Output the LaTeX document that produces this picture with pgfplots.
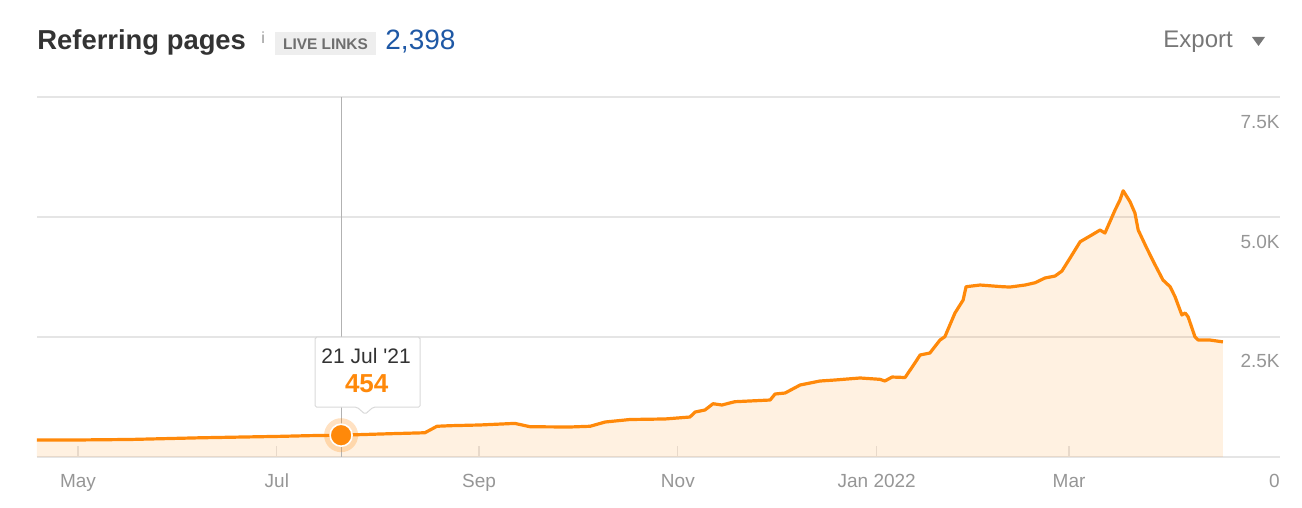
\documentclass[border=0pt]{standalone}
\usepackage{fontspec}
\setmainfont{Liberation Sans}
\usepackage{pgfplots}
\pgfplotsset{compat=1.18}
\usepackage{pgfplotstable}
\definecolor{lineor}{RGB}{255,137,10}
\definecolor{gridc}{RGB}{229,229,229}
\definecolor{tickc}{RGB}{150,150,150}
\definecolor{titlec}{RGB}{51,51,51}
\definecolor{numblue}{RGB}{30,88,165}
\definecolor{exportc}{RGB}{119,119,119}
\definecolor{boxbg}{RGB}{238,238,238}
\definecolor{livec}{RGB}{110,110,110}

% x = days since 1 May 2021
\pgfplotstableread{
d v
-12.6 354
-0.9 354
16.0 365
37.4 400
62.0 430
71.2 445
80.7 454
95.7 485
106.4 505
110.1 640
114.1 652
123.3 667
134.0 700
138.7 630
150.9 625
157.1 640
161.7 729
169.3 781
180.1 792
187.7 833
189.3 937
192.3 979
194.8 1110
197.5 1083
201.5 1152
212.3 1187
213.8 1312
216.9 1333
221.5 1500
227.6 1583
232.2 1604
239.9 1646
246.0 1618
247.5 1583
249.7 1666
253.7 1656
256.7 1958
258.3 2125
261.3 2166
264.4 2437
265.9 2506
269.0 3000
271.5 3270
272.4 3547
276.7 3583
283.7 3547
285.9 3541
290.5 3583
293.6 3631
296.6 3729
299.7 3770
301.8 3874
304.3 4145
307.4 4485
310.4 4603
313.5 4728
315.0 4666
318.1 5145
319.6 5353
320.6 5547
322.7 5318
324.2 5083
325.2 4729
327.8 4354
330.4 4000
332.8 3687
335.0 3547
336.5 3339
338.6 2958
339.6 3000
340.5 2922
342.6 2506
343.6 2437
347.2 2437
351.2 2398
}\datatable

\begin{document}
\begin{tikzpicture}
\useasboundingbox (0,0) rectangle (651pt,254pt);
\begin{axis}[
  at={(18.5pt,25.5pt)}, anchor=south west,
  scale only axis, width=621.5pt, height=180pt,
  xmin=-12.58, xmax=368.7, ymin=0, ymax=7500,
  clip=false,
  axis line style={draw=none},
  ymajorgrids=true,
  grid style={color=gridc, line width=0.6pt},
  xtick={0,61,123,184,245,304},
  xticklabels={May,Jul,Sep,Nov,Jan 2022,Mar},
  ytick={0,2500,5000,7500},
  yticklabels={0,2.5K,5.0K,7.5K},
  yticklabel pos=right,
  xtick pos=bottom,
  yticklabel style={anchor=base east, inner sep=0pt, yshift=-15.5pt, text=tickc, font=\fontsize{9.5}{11}\selectfont},
  xticklabel style={anchor=base, inner sep=0pt, yshift=-15.5pt, text=tickc, font=\fontsize{9.5}{11}\selectfont},
  tick align=inside,
  major tick length=5.5pt,
  ytick style={draw=none},
  xtick style={color=gridc, line width=0.6pt},
]
\addplot[draw=none, fill=lineor, fill opacity=0.12] table[x=d,y=v]{\datatable} \closedcycle;
\draw[color=black!30, line width=0.5pt] (axis cs:80.7,0) -- (axis cs:80.7,7500);
\addplot[lineor, line width=1.6pt, line join=round] table[x=d,y=v]{\datatable};
\addplot[lineor, only marks, mark=*, mark size=8.5pt, mark options={fill=lineor, fill opacity=0.25, draw opacity=0}] coordinates {(80.7,454)};
\addplot[lineor, only marks, mark=*, mark size=5.5pt, mark options={fill=lineor, draw=white, line width=0.8pt}] coordinates {(80.7,454)};
\draw[shift={(axis cs:80.7,454)}, draw=black!15, fill=white, line width=0.5pt, rounded corners=0.8pt]
  (-13pt,14pt) -- (8pt,14pt) -- (12pt,10.5pt) -- (16pt,14pt) -- (39.5pt,14pt) -- (39.5pt,49pt) -- (-13pt,49pt) -- cycle;
\node[shift={(axis cs:80.7,454)}, anchor=base, inner sep=0pt, text=titlec, font=\fontsize{10.5}{12}\selectfont] at (12.5pt,36pt) {21 Jul \textquotesingle21};
\node[shift={(axis cs:80.7,454)}, anchor=base, inner sep=0pt, text=lineor, font=\bfseries\fontsize{13}{15}\selectfont] at (12.8pt,21.5pt) {454};
\end{axis}
% header
\node[anchor=base west, inner sep=0pt, text=titlec, font=\bfseries\fontsize{13.7}{16}\selectfont] at (18.5pt,229pt) {Referring pages};
\node[anchor=base west, inner sep=0pt, text=tickc, font=\fontsize{8}{9}\selectfont] at (130.5pt,232pt) {i};
\fill[boxbg] (137.5pt,226.5pt) rectangle (188pt,238pt);
\node[anchor=base, inner sep=0pt, text=livec, font=\bfseries\fontsize{7.7}{9}\selectfont] at (162.75pt,229.3pt) {LIVE LINKS};
\node[anchor=base west, inner sep=0pt, text=numblue, font=\fontsize{14}{16}\selectfont] at (192.5pt,229pt) {2,398};
\node[anchor=base west, inner sep=0pt, text=exportc, font=\fontsize{12}{14}\selectfont] at (581.5pt,230pt) {Export};
\fill[exportc] (626pt,235.5pt) -- (632.5pt,235.5pt) -- (629.25pt,231pt) -- cycle;
\end{tikzpicture}
\end{document}
